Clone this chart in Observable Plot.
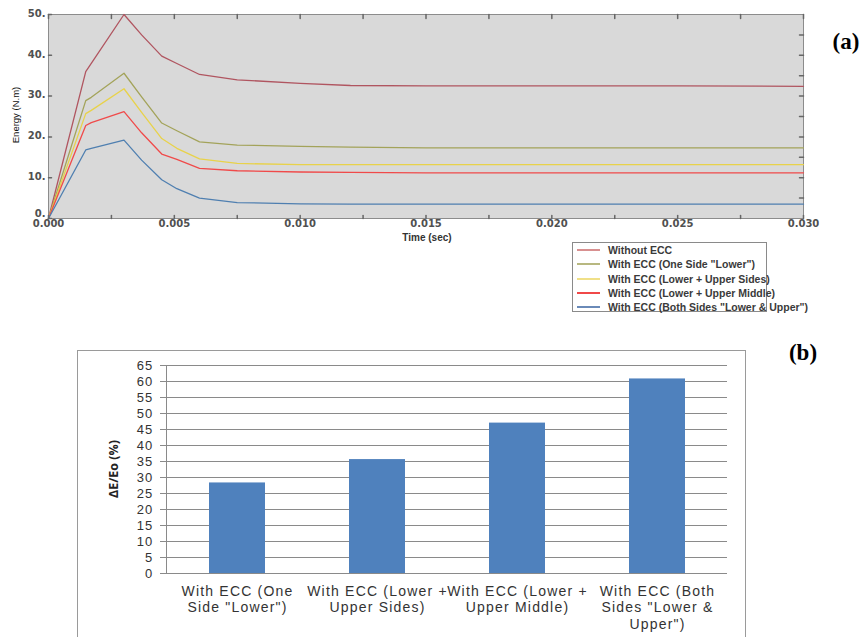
<!DOCTYPE html>
<html><head><meta charset="utf-8">
<script src="https://cdn.jsdelivr.net/npm/d3@7"></script>
<script src="https://cdn.jsdelivr.net/npm/@observablehq/plot@0.6"></script>
<style>
html,body{margin:0;padding:0;background:#fff}
body{width:867px;height:637px;overflow:hidden;position:relative;font-family:"Liberation Sans",Arial,sans-serif}
#a{position:absolute;left:0;top:0}
#b{position:absolute;left:77px;top:350px;width:669px;height:300px;border:1px solid #9a9a9a;box-sizing:border-box}
#b svg text{letter-spacing:1.2px}
.lab{position:absolute;white-space:nowrap}
#legend{position:absolute;left:572px;top:242px;width:195px;height:70px;border:1px solid #8a8a8a;box-sizing:border-box;background:#fff}
#legend .row{position:absolute;left:4px;height:14px;white-space:nowrap;font:bold 10.5px "Liberation Sans",Arial,sans-serif;color:#3a3a3a;line-height:14px}
#legend .sw{position:absolute;left:0;top:6px;width:23px;height:2px}
#legend .tx{position:absolute;left:31px;top:0}
</style></head>
<body>
<div id="a"></div>
<div id="b"></div>
<div class="lab" style="left:15px;top:115px;transform:translate(-50%,-50%) rotate(-90deg);font-size:9.5px;color:#111">Energy (N.m)</div>
<div class="lab" style="left:427px;top:237px;transform:translate(-50%,-50%);font-weight:bold;font-size:10px;color:#333">Time (sec)</div>
<div class="lab" style="left:846px;top:42px;transform:translate(-50%,-50%);font:bold 23px 'Liberation Serif',serif;color:#000">(a)</div>
<div class="lab" style="left:803px;top:353px;transform:translate(-50%,-50%);font:bold 23px 'Liberation Serif',serif;color:#000">(b)</div>
<div class="lab" style="left:113px;top:469px;transform:translate(-50%,-50%) rotate(-90deg);font:bold 12.5px 'Open Sans',sans-serif;color:#222">ΔE/Eo (%)</div>
<div id="legend"></div>
<script>
// ---------- Panel (a) data ----------
const seriesNames = [
  "Without ECC",
  "With ECC (One Side \"Lower\")",
  "With ECC (Lower + Upper Sides)",
  "With ECC (Lower + Upper Middle)",
  "With ECC (Both Sides \"Lower & Upper\")"
];
const seriesColors = ["#b05560", "#a3a35a", "#e8d24a", "#f04a4a", "#4f7fb0"];
const legendColors = ["#d89090", "#b8b880", "#f0e088", "#f04848", "#6a8ab8"];
const timeSec = [0, 0.00148, 0.0017, 0.003, 0.0037, 0.0045, 0.0051, 0.006, 0.0075, 0.010, 0.012, 0.015, 0.020, 0.025, 0.030];
const energyWithout   = [0, 36.0, 38.0, 50.0, 45.0, 39.8, 38.0, 35.3, 34.0, 33.1, 32.6, 32.5, 32.5, 32.5, 32.4];
const energyOneSide   = [0, 28.9, 29.7, 35.6, 29.8, 23.4, 21.5, 18.8, 18.0, 17.7, 17.5, 17.3, 17.3, 17.3, 17.3];
const energyLowUpSide = [0, 25.7, 26.5, 31.8, 26.0, 19.6, 17.2, 14.6, 13.5, 13.2, 13.2, 13.2, 13.2, 13.2, 13.2];
const energyLowUpMid  = [0, 22.8, 23.5, 26.2, 21.0, 15.8, 14.5, 12.3, 11.7, 11.4, 11.3, 11.2, 11.2, 11.2, 11.2];
const energyBoth      = [0, 16.8, 17.2, 19.2, 14.3, 9.5, 7.3, 5.0, 3.9, 3.6, 3.5, 3.5, 3.5, 3.5, 3.5];
const xTicksA = [0, 0.005, 0.010, 0.015, 0.020, 0.025, 0.030];
const xMinorA = [0, 0.0025, 0.005, 0.0075, 0.010, 0.0125, 0.015, 0.0175, 0.020, 0.0225, 0.025, 0.0275, 0.030];
const yTicksA = [0, 10, 20, 30, 40, 50];
const yMinorA = [5, 10, 15, 20, 25, 30, 35, 40, 45];

// ---------- Panel (b) data ----------
const barCategories = seriesNames.slice(1);
const barLabels = ["With ECC (One\nSide \"Lower\")", "With ECC (Lower +\nUpper Sides)", "With ECC (Lower +\nUpper Middle)", "With ECC (Both\nSides \"Lower &\nUpper\")"];
const barValues = [28.3, 35.6, 47.0, 60.8];
const yTicksB = [0, 5, 10, 15, 20, 25, 30, 35, 40, 45, 50, 55, 60, 65];

const allSeries = [energyWithout, energyOneSide, energyLowUpSide, energyLowUpMid, energyBoth];
const lineData = [];
seriesNames.forEach((name, i) => timeSec.forEach((t, j) => lineData.push({series: name, t, e: allSeries[i][j]})));

const tickShape = {draw(ctx, l) { ctx.moveTo(0, 0); ctx.lineTo(0, -l); }};
const tickFont = {fontFamily: "DejaVu Sans", fontWeight: "bold", fontSize: 10, fill: "#505050"};

const plotA = Plot.plot({
  width: 830, height: 245,
  marginLeft: 48, marginRight: 27, marginTop: 14, marginBottom: 27,
  style: {background: "transparent", overflow: "visible"},
  x: {domain: [0, 0.030]},
  y: {domain: [0, 50]},
  color: {domain: seriesNames, range: seriesColors},
  marks: [
    Plot.frame({fill: "#d9d9d9", stroke: "#8c8c8c"}),
    Plot.line(lineData, {x: "t", y: "e", z: "series", stroke: "series", strokeWidth: 1.3}),
    Plot.vector(xMinorA, {x: d => d, frameAnchor: "top", rotate: 180, length: 4, anchor: "start", shape: tickShape, stroke: "#666"}),
    Plot.vector(xMinorA, {x: d => d, frameAnchor: "bottom", rotate: 0, length: 3, anchor: "start", shape: tickShape, stroke: "#666"}),
    Plot.vector(yMinorA, {y: d => d, frameAnchor: "right", rotate: -90, length: 4, anchor: "start", shape: tickShape, stroke: "#666"}),
    Plot.vector(yTicksA, {y: d => d, frameAnchor: "left", rotate: 90, length: 3, anchor: "start", shape: tickShape, stroke: "#666"}),
    Plot.axisX(xTicksA, {tickSize: 0, tickPadding: 1, tickFormat: d3.format(".3f"), label: null, ...tickFont}),
    Plot.axisY(yTicksA.slice(1), {tickSize: 0, tickPadding: 3, dy: -1, tickFormat: d => d + ".", label: null, ...tickFont}),
    Plot.axisY(yTicksA.slice(0, 1), {tickSize: 0, tickPadding: 3, dy: -5, tickFormat: d => d + ".", label: null, ...tickFont})
  ]
});
document.getElementById("a").appendChild(plotA);

// legend
const leg = document.getElementById("legend");
seriesNames.forEach((name, i) => {
  const row = document.createElement("div");
  row.className = "row";
  row.style.top = (i * 14.3) + "px";
  const sw = document.createElement("span");
  sw.className = "sw"; sw.style.background = legendColors[i];
  const tx = document.createElement("span");
  tx.className = "tx"; tx.textContent = name;
  row.appendChild(sw); row.appendChild(tx);
  leg.appendChild(row);
});

const barData = barCategories.map((c, i) => ({cat: c, label: barLabels[i], v: barValues[i]}));
const plotB = Plot.plot({
  width: 667, height: 286,
  marginLeft: 88, marginRight: 18, marginTop: 14, marginBottom: 64,
  style: {background: "transparent", overflow: "visible", fontFamily: "Liberation Sans"},
  x: {domain: barCategories, paddingInner: 0.6, paddingOuter: 0.3},
  y: {domain: [0, 65]},
  marks: [
    Plot.gridY(yTicksB, {stroke: "#8a8a8a", strokeOpacity: 1}),
    Plot.barY(barData, {x: "cat", y: "v", fill: "#4f81bd"}),
    Plot.ruleY([0], {stroke: "#8a8a8a"}),
    Plot.frame({anchor: "left", stroke: "#8a8a8a"}),
    Plot.axisY(yTicksB, {tickSize: 6, tickPadding: 7, stroke: "#8a8a8a", fontSize: 13, fill: "#333", label: null}),
    Plot.axisX(barCategories, {tickSize: 0, tickPadding: 10, tickFormat: d => barLabels[barCategories.indexOf(d)], fontSize: 14, lineHeight: 1.21, fill: "#333", label: null})
  ]
});
document.getElementById("b").appendChild(plotB);
</script>
</body></html>
